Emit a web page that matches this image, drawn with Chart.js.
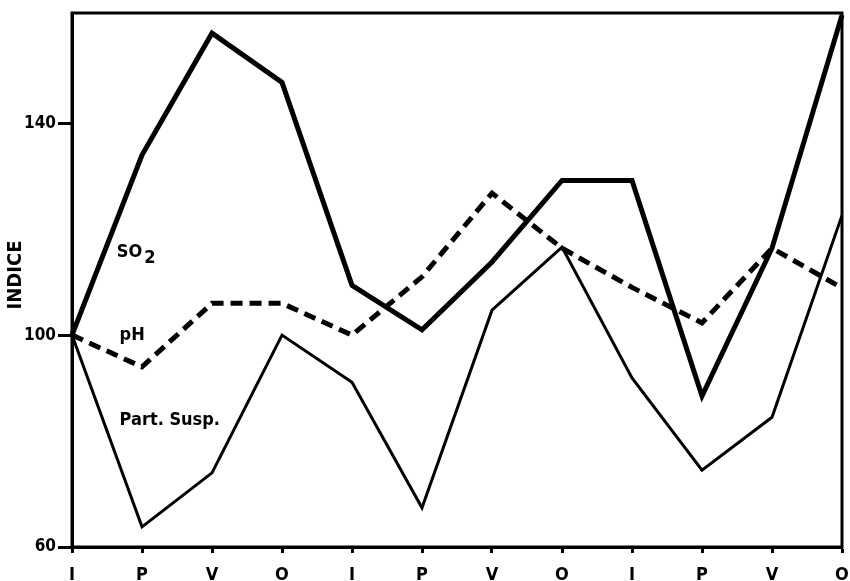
<!DOCTYPE html>
<html>
<head>
<meta charset="utf-8">
<script src="https://cdn.jsdelivr.net/npm/chart.js@4/dist/chart.umd.min.js"></script>
<style>
  html, body { margin: 0; padding: 0; background: #fff; }
  canvas { display: block; }
</style>
</head>
<body>
<canvas id="chart" width="850" height="581"></canvas>
<script>
// seasons: Inverno, Primavera, Verano, Otoño (three years)
const categories = ["I", "P", "V", "O", "I", "P", "V", "O", "I", "P", "V", "O"];
const so2 = [100, 134, 157, 147.7, 109.4, 101, 113.8, 129.2, 129.2, 88.5, 116.4, 160.4];
const ph = [100, 94, 106, 106, 100, 111, 126.8, 116.4, 109, 102.3, 116.4, 108.9];
const partSusp = [100, 63.8, 74, 100, 91.1, 67.4, 104.7, 116.6, 91.9, 74.5, 84.5, 122.6];
const yTicks = [60, 100, 140];

const FONT = "'Liberation Sans Narrow', 'DejaVu Sans Condensed', sans-serif";

// labels of the curves, placed in data units (category index, value)
const curveLabels = [
    { text: "SO", sub: "2", x: 0.64, y: 117.4 },
    { text: "pH", x: 0.68, y: 101.6 },
    { text: "Part. Susp.", x: 0.68, y: 85.6 }
];

const framePlugin = {
    id: "frame",
    afterDatasetsDraw(chart) {
        const ctx = chart.ctx;
        const area = chart.chartArea;
        const xs = chart.scales.x;
        const ys = chart.scales.y;

        ctx.save();
        ctx.strokeStyle = "#000";
        ctx.lineWidth = 3;
        ctx.strokeRect(area.left, area.top, area.right - area.left, area.bottom - area.top);

        ctx.fillStyle = "#000";
        ctx.textBaseline = "top";
        ctx.textAlign = "left";
        ctx.font = "bold 18px " + FONT;
        curveLabels.forEach((lbl) => {
            const px = xs.getPixelForValue(lbl.x);
            const py = ys.getPixelForValue(lbl.y);
            ctx.fillText(lbl.text, px, py);
            if (lbl.sub) {
                const w = ctx.measureText(lbl.text).width;
                ctx.fillText(lbl.sub, px + w + 2, py + 6);
            }
        });

        // axis title
        ctx.translate(16, 275);
        ctx.rotate(-Math.PI / 2);
        ctx.textAlign = "center";
        ctx.textBaseline = "middle";
        ctx.font = "bold 20px " + FONT;
        ctx.fillText("INDICE", 0, 0);
        ctx.restore();
    }
};

new Chart(document.getElementById("chart"), {
    type: "line",
    data: {
        labels: categories,
        datasets: [
            {
                label: "Part. Susp.",
                data: partSusp,
                borderColor: "#000",
                borderWidth: 3,
                borderJoinStyle: "miter",
                pointRadius: 0,
                tension: 0,
                clip: false
            },
            {
                label: "pH",
                data: ph,
                borderColor: "#000",
                borderWidth: 5,
                borderDash: [12, 7],
                borderJoinStyle: "miter",
                pointRadius: 0,
                tension: 0,
                clip: false
            },
            {
                label: "SO2",
                data: so2,
                borderColor: "#000",
                borderWidth: 5,
                borderJoinStyle: "miter",
                pointRadius: 0,
                tension: 0,
                clip: false
            }
        ]
    },
    options: {
        responsive: false,
        animation: false,
        devicePixelRatio: 1,
        layout: { padding: { left: 0, right: 8, top: 13, bottom: 0 } },
        plugins: {
            legend: { display: false },
            tooltip: { enabled: false }
        },
        scales: {
            x: {
                type: "category",
                offset: false,
                afterFit: (scale) => {
                    scale.height = 34;
                    scale.paddingLeft = 0;
                    scale.paddingRight = 0;
                },
                grid: {
                    offset: false,
                    drawOnChartArea: false,
                    drawTicks: true,
                    tickLength: 6,
                    tickWidth: 3,
                    tickColor: "#000"
                },
                border: { display: true, color: "#000", width: 3 },
                ticks: {
                    autoSkip: false,
                    maxRotation: 0,
                    padding: 12,
                    color: "#000",
                    font: { family: FONT, size: 18, weight: "bold" }
                }
            },
            y: {
                min: 60,
                max: 160.8,
                afterFit: (scale) => {
                    scale.width = 72;
                    scale.paddingTop = 0;
                    scale.paddingBottom = 0;
                },
                afterBuildTicks: (scale) => {
                    scale.ticks = yTicks.map((v) => ({ value: v }));
                },
                grid: {
                    drawOnChartArea: false,
                    drawTicks: true,
                    tickLength: 14,
                    tickWidth: 3,
                    tickColor: "#000"
                },
                border: { display: true, color: "#000", width: 3 },
                ticks: {
                    padding: 2,
                    color: "#000",
                    font: { family: FONT, size: 17, weight: "bold" }
                }
            }
        }
    },
    plugins: [framePlugin]
});
</script>
</body>
</html>
